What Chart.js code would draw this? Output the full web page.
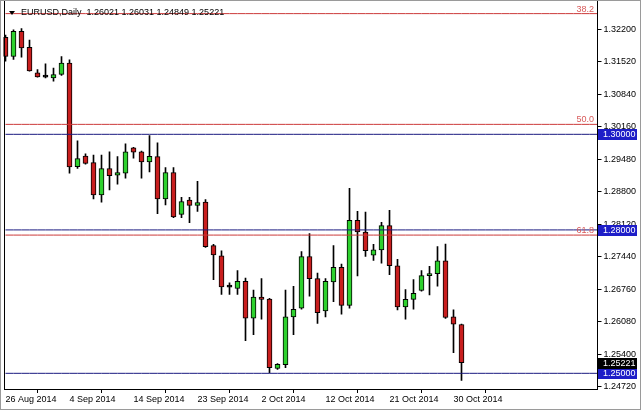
<!DOCTYPE html>
<html>
<head>
<meta charset="utf-8">
<script src="https://cdn.jsdelivr.net/npm/chart.js@4.4.1/dist/chart.umd.min.js"></script>
<style>
    html, body { margin: 0; padding: 0; background: #fff; }
    #wrap { position: relative; width: 641px; height: 410px; }
</style>
</head>
<body>
<div id="wrap"><canvas id="chart" width="641" height="410"></canvas></div>
<script>
var dates = ['26 Aug 2014', '27 Aug 2014', '28 Aug 2014', '29 Aug 2014', '31 Aug 2014',
    '1 Sep 2014', '2 Sep 2014', '3 Sep 2014', '4 Sep 2014', '5 Sep 2014', '7 Sep 2014', '8 Sep 2014',
    '9 Sep 2014', '10 Sep 2014', '11 Sep 2014', '12 Sep 2014', '14 Sep 2014', '15 Sep 2014',
    '16 Sep 2014', '17 Sep 2014', '18 Sep 2014', '19 Sep 2014', '21 Sep 2014', '22 Sep 2014',
    '23 Sep 2014', '24 Sep 2014', '25 Sep 2014', '26 Sep 2014', '28 Sep 2014', '29 Sep 2014',
    '30 Sep 2014', '1 Oct 2014', '2 Oct 2014', '3 Oct 2014', '5 Oct 2014', '6 Oct 2014',
    '7 Oct 2014', '8 Oct 2014', '9 Oct 2014', '10 Oct 2014', '12 Oct 2014', '13 Oct 2014',
    '14 Oct 2014', '15 Oct 2014', '16 Oct 2014', '17 Oct 2014', '19 Oct 2014', '20 Oct 2014',
    '21 Oct 2014', '22 Oct 2014', '23 Oct 2014', '24 Oct 2014', '26 Oct 2014', '27 Oct 2014',
    '28 Oct 2014', '29 Oct 2014', '30 Oct 2014', '31 Oct 2014'];

var opens = [1.32028, 1.31627, 1.32152, 1.31822, 1.31284, 1.31201, 1.31180, 1.31255, 1.31491, 1.29325,
    1.29546, 1.29408, 1.28732, 1.29284, 1.29145, 1.29187, 1.29718, 1.29635, 1.29422, 1.29532,
    1.28649, 1.29201, 1.28326, 1.28622, 1.28512, 1.28581, 1.27670, 1.27457, 1.26808, 1.26775,
    1.26926, 1.26154, 1.26595, 1.26554, 1.25100, 1.25182, 1.26181, 1.26361, 1.27443, 1.26982,
    1.26305, 1.26911, 1.27215, 1.26423, 1.28202, 1.27954, 1.27470, 1.27582, 1.28090, 1.27251,
    1.26388, 1.26547, 1.26733, 1.27044, 1.27085, 1.27354, 1.26181, 1.26021];
var highs = [1.32076, 1.32186, 1.32214, 1.31972, 1.31352, 1.31476, 1.31387, 1.31627, 1.31559, 1.29863,
    1.29594, 1.29567, 1.29567, 1.29635, 1.29532, 1.29801, 1.29730, 1.29650, 1.29972, 1.29821,
    1.29304, 1.29304, 1.28684, 1.28684, 1.29015, 1.28636, 1.27697, 1.27561, 1.26891, 1.27147,
    1.26994, 1.26740, 1.26982, 1.26568, 1.25203, 1.26740, 1.26822, 1.27546, 1.27925, 1.27098,
    1.26982, 1.27670, 1.27284, 1.28870, 1.28388, 1.28374, 1.27697, 1.28161, 1.28409, 1.27387,
    1.26754, 1.26961, 1.27147, 1.27236, 1.27650, 1.27706, 1.26326, 1.26031];
var lows = [1.31528, 1.31565, 1.31615, 1.31321, 1.31197, 1.31182, 1.31114, 1.31234, 1.29187, 1.29284,
    1.29373, 1.28649, 1.28581, 1.28835, 1.28959, 1.29083, 1.29501, 1.29083, 1.29215, 1.28338,
    1.28525, 1.28256, 1.28256, 1.28152, 1.28388, 1.27635, 1.26961, 1.26651, 1.26651, 1.26651,
    1.25685, 1.25809, 1.26134, 1.25009, 1.25079, 1.25120, 1.25809, 1.26341, 1.26616, 1.26043,
    1.26181, 1.26498, 1.26237, 1.26361, 1.27036, 1.27443, 1.27360, 1.27304, 1.27064, 1.26326,
    1.26134, 1.26341, 1.26719, 1.26642, 1.26822, 1.26146, 1.25430, 1.24849];
var closes = [1.31631, 1.32152, 1.31807, 1.31325, 1.31201, 1.31197, 1.31249, 1.31491, 1.29319, 1.29491,
    1.29393, 1.28732, 1.29284, 1.29133, 1.29201, 1.29635, 1.29629, 1.29422, 1.29538, 1.28649,
    1.29201, 1.28270, 1.28595, 1.28512, 1.28574, 1.27650, 1.27478, 1.26808, 1.26802, 1.26926,
    1.26154, 1.26595, 1.26547, 1.25120, 1.25189, 1.26181, 1.26341, 1.27443, 1.26982, 1.26270,
    1.26926, 1.27215, 1.26423, 1.28202, 1.27960, 1.27567, 1.27582, 1.28090, 1.27251, 1.26388,
    1.26547, 1.26671, 1.27044, 1.27085, 1.27354, 1.26167, 1.26030, 1.25221];

var yTicks = [1.24720, 1.25400, 1.26080, 1.26760, 1.27440, 1.28120, 1.28800, 1.29480, 1.30160, 1.30840, 1.31520, 1.32200];
var levels = [1.30000, 1.28000, 1.25000];
var fibLevels = [1.32525, 1.30208, 1.27892];
var fibNames = ['38.2', '50.0', '61.8'];
var lastPrice = 1.25221;
var blankSlots = 17;
var titleText = 'EURUSD,Daily  1.26021 1.26031 1.24849 1.25221';

var FONT = '9px "Liberation Sans", Arial, sans-serif';
var BULL = '#2ed12e';
var BEAR = '#c81e1e';
var LEVEL_COLOR = '#1a1a80';
var FIB_COLOR = '#cc3a3a';

var labels = dates.concat(new Array(blankSlots).fill(''));

var wickData = lows.map(function (l, i) { return [l, highs[i]]; });
var bodyData = opens.map(function (o, i) { return [o, closes[i]]; });
var bodyColors = opens.map(function (o, i) {
    if (Math.abs(closes[i] - o) < 0.0001) return '#000';
    return closes[i] > o ? BULL : BEAR;
});

var datasets = [];
levels.forEach(function (lv) {
    datasets.push({
        type: 'line', data: labels.map(function () { return lv; }),
        borderColor: LEVEL_COLOR, borderWidth: 1, pointRadius: 0, order: 0
    });
});
fibLevels.forEach(function (lv) {
    datasets.push({
        type: 'line', data: labels.map(function () { return lv; }),
        borderColor: FIB_COLOR, borderWidth: 1, pointRadius: 0, order: 0
    });
});
datasets.push({
    type: 'bar', data: bodyData, backgroundColor: bodyColors, borderColor: '#000',
    borderWidth: 1, borderSkipped: false, barThickness: 5, minBarLength: 2,
    grouped: false, order: 1, clip: { left: 2, top: 0, right: 0, bottom: 0 }
});
datasets.push({
    type: 'bar', data: wickData, backgroundColor: '#000', borderWidth: 0,
    barThickness: 1, grouped: false, order: 2, clip: { left: 2, top: 0, right: 0, bottom: 0 }
});

var decor = {
    id: 'decor',
    afterDraw: function (chart) {
        var ctx = chart.ctx;
        var y = chart.scales.y;
        ctx.save();
        // frame
        ctx.strokeStyle = '#9a9a9a';
        ctx.lineWidth = 1;
        ctx.strokeRect(0.5, 0.5, 640, 409);
        ctx.fillStyle = '#000';
        ctx.fillRect(4, 1, 1, 389);
        ctx.fillRect(597, 1, 1, 389);
        ctx.fillRect(4, 389, 594, 1);

        // fib labels
        ctx.save();
        ctx.beginPath();
        ctx.rect(5, 3.5, 592, 385);
        ctx.clip();
        ctx.font = FONT;
        ctx.fillStyle = '#d85a5a';
        ctx.textAlign = 'right';
        ctx.textBaseline = 'alphabetic';
        fibLevels.forEach(function (lv, i) {
            ctx.fillText(fibNames[i], 594, y.getPixelForValue(lv) - 2);
        });
        ctx.restore();

        // price boxes on the axis
        ctx.font = FONT;
        ctx.textAlign = 'left';
        ctx.textBaseline = 'middle';
        function box(val, bg) {
            var py = Math.round(y.getPixelForValue(val));
            ctx.fillStyle = bg;
            ctx.fillRect(598, py - 5, 39, 11);
            ctx.fillStyle = '#fff';
            ctx.fillText(val.toFixed(5), 603, py + 0.5);
        }
        levels.forEach(function (lv) { box(lv, '#1e1ec8'); });
        box(lastPrice, '#000');

        // title
        ctx.fillStyle = '#000';
        ctx.beginPath();
        ctx.moveTo(9, 11);
        ctx.lineTo(15, 11);
        ctx.lineTo(12, 15);
        ctx.closePath();
        ctx.fill();
        ctx.fillText(titleText, 21, 13);
        ctx.restore();
    }
};

new Chart(document.getElementById('chart'), {
    type: 'bar',
    data: { labels: labels, datasets: datasets },
    options: {
        responsive: false,
        animation: false,
        devicePixelRatio: 1,
        layout: { padding: { top: 3, left: 5.5, right: 0, bottom: 0 } },
        plugins: { legend: { display: false }, tooltip: { enabled: false } },
        scales: {
            x: {
                offset: false,
                border: { display: false },
                grid: { display: true, drawOnChartArea: false, tickLength: 4, tickColor: '#000' },
                ticks: {
                    autoSkip: false, maxRotation: 0, align: 'start', padding: 1,
                    color: '#000', font: { family: '"Liberation Sans", Arial, sans-serif', size: 9 },
                    callback: function (v) { return labels[v]; }
                },
                afterBuildTicks: function (s) {
                    s.ticks = s.ticks.filter(function (t) { return t.value % 8 === 0 && labels[t.value]; });
                },
                afterFit: function (s) { s.height = 21; }
            },
            y: {
                position: 'right',
                min: 1.24672,
                max: 1.32655,
                border: { display: false },
                grid: { display: true, drawOnChartArea: false, tickLength: 4, tickColor: '#000' },
                ticks: {
                    padding: 2, color: '#000', crossAlign: 'near',
                    font: { family: '"Liberation Sans", Arial, sans-serif', size: 9 },
                    callback: function (v) { return Number(v).toFixed(5); }
                },
                afterBuildTicks: function (s) {
                    s.ticks = yTicks.map(function (v) { return { value: v }; });
                },
                afterFit: function (s) { s.width = 43.5; }
            }
        }
    },
    plugins: [decor]
});
</script>
</body>
</html>
